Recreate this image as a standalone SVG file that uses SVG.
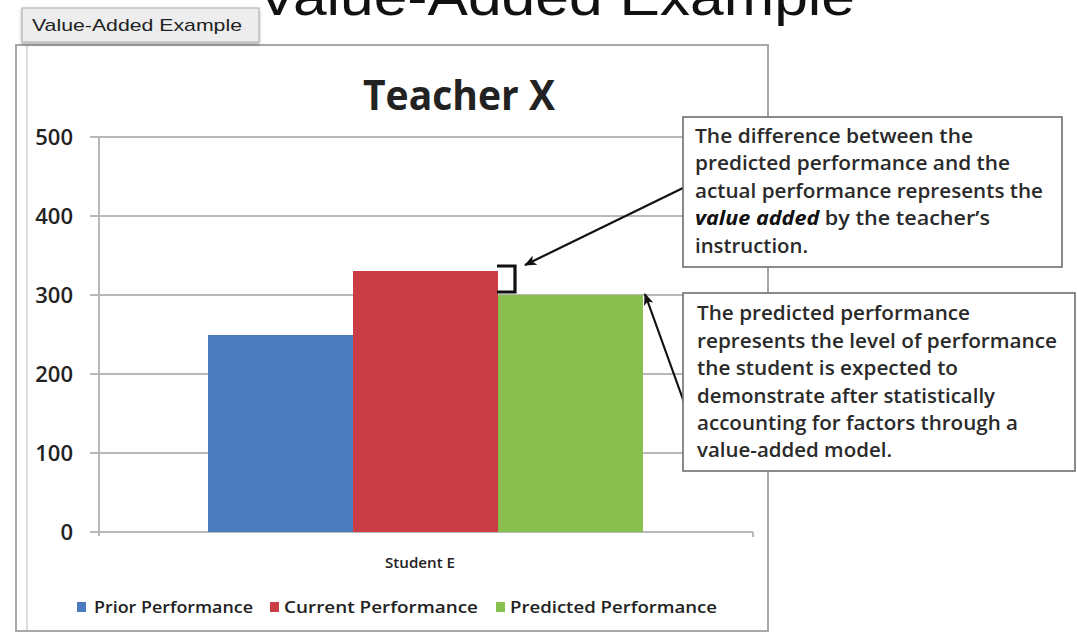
<svg xmlns="http://www.w3.org/2000/svg" width="1077" height="633" viewBox="0 0 1077 633">
<style>
.lbl{font-family:"Open Sans","Noto Sans",sans-serif;fill:#222;font-weight:600;}
.ax{font-family:"Open Sans","Noto Sans",sans-serif;font-size:22px;fill:#222;text-anchor:end;font-weight:600;}
.grid{stroke:#b8b8b8;stroke-width:2;fill:none;}
.note{font-family:"Open Sans","Noto Sans",sans-serif;font-size:19px;fill:#2a2a2a;font-weight:600;}
.box{fill:#fff;stroke:#6e6e6e;stroke-width:1.6;}
.conn{stroke:#111;stroke-width:2.2;fill:none;}
</style>
<defs>
<marker id="ah" viewBox="0 0 12 10" refX="11" refY="5" markerWidth="12" markerHeight="10" markerUnits="userSpaceOnUse" orient="auto">
<path d="M0,0 L12,5 L0,10 L3,5 Z" fill="#111"/>
</marker>
<filter id="sh" x="-10%" y="-10%" width="120%" height="140%">
<feDropShadow dx="0" dy="2" stdDeviation="1.5" flood-color="#000" flood-opacity="0.3"/>
</filter>
</defs>
<rect width="1077" height="633" fill="#fff"/>
<g id="page-title">
<text x="257" y="15" font-family="Liberation Sans, Arial, sans-serif" font-size="54" fill="#111" textLength="598" lengthAdjust="spacingAndGlyphs">Value-Added Example</text>
</g>
<g id="chart-frame">
<rect x="16" y="45" width="752" height="586" fill="#fff" stroke="#a8a8a8" stroke-width="2"/>
<line x1="27" y1="46" x2="27" y2="630" stroke="#dcdcdc" stroke-width="2"/>
</g>
<g id="tab">
<rect x="22" y="8" width="237" height="34" fill="#ededed" stroke="#b5b5b5" stroke-width="1.2" filter="url(#sh)"/>
<text x="32" y="31" font-family="Liberation Sans, Arial, sans-serif" font-size="17" fill="#222" textLength="210" lengthAdjust="spacingAndGlyphs">Value-Added Example</text>
</g>
<g id="chart-title">
<text class="lbl" x="363" y="110" font-size="41" font-weight="bold" fill="#111" style="font-weight:bold" textLength="192" lengthAdjust="spacingAndGlyphs">Teacher X</text>
</g>
<g id="axes">
<line class="grid" x1="90" y1="137" x2="753" y2="137"/>
<line class="grid" x1="90" y1="216" x2="753" y2="216"/>
<line class="grid" x1="90" y1="295" x2="753" y2="295"/>
<line class="grid" x1="90" y1="374" x2="753" y2="374"/>
<line class="grid" x1="90" y1="453" x2="753" y2="453"/>
<line class="grid" x1="90" y1="532" x2="753" y2="532"/>
<line class="grid" x1="99" y1="137" x2="99" y2="536"/>
<line class="grid" x1="753" y1="532" x2="753" y2="537"/>
<text class="ax" x="73" y="145">500</text>
<text class="ax" x="73" y="224">400</text>
<text class="ax" x="73" y="303">300</text>
<text class="ax" x="73" y="382">200</text>
<text class="ax" x="73" y="461">100</text>
<text class="ax" x="73" y="540">0</text>
<text class="lbl" x="385" y="568" font-size="15" textLength="70" lengthAdjust="spacingAndGlyphs">Student E</text>
</g>
<g id="bar-prior"><rect x="208" y="335" width="145" height="197" fill="#4a7bbd"/></g>
<g id="bar-current"><rect x="353" y="271" width="145" height="261" fill="#cb3d44"/></g>
<g id="bar-predicted"><rect x="498" y="295" width="145" height="237" fill="#89bf4f"/></g>
<g id="legend">
<rect x="77" y="602" width="9" height="10" fill="#4a7bbd"/>
<text class="lbl" x="94" y="613" font-size="16.5" textLength="159" lengthAdjust="spacingAndGlyphs">Prior Performance</text>
<rect x="270" y="602" width="9" height="10" fill="#cb3d44"/>
<text class="lbl" x="284" y="613" font-size="16.5" textLength="194" lengthAdjust="spacingAndGlyphs">Current Performance</text>
<rect x="496" y="602" width="9" height="10" fill="#89bf4f"/>
<text class="lbl" x="510" y="613" font-size="16.5" textLength="207" lengthAdjust="spacingAndGlyphs">Predicted Performance</text>
</g>
<g id="connectors">
<path d="M497,266 H515 V292 H497" stroke="#111" stroke-width="3.2" fill="none"/>
<line class="conn" x1="683" y1="188" x2="525" y2="265" marker-end="url(#ah)"/>
<line class="conn" x1="685" y1="405" x2="645" y2="294" marker-end="url(#ah)"/>
</g>
<g id="note-value-added">
<rect class="box" x="683" y="117" width="379" height="150"/>
<text class="note" x="695" y="143" textLength="278" lengthAdjust="spacingAndGlyphs">The difference between the</text>
<text class="note" x="695" y="170" textLength="315" lengthAdjust="spacingAndGlyphs">predicted performance and the</text>
<text class="note" x="695" y="197.5" textLength="348" lengthAdjust="spacingAndGlyphs">actual performance represents the</text>
<text class="note" x="695" y="225" textLength="295" lengthAdjust="spacingAndGlyphs"><tspan font-weight="bold" font-style="italic" fill="#111" style="font-weight:bold">value added</tspan> by the teacher’s</text>
<text class="note" x="695" y="252.5" textLength="113" lengthAdjust="spacingAndGlyphs">instruction.</text>
</g>
<g id="note-predicted">
<rect class="box" x="683" y="293" width="392" height="178"/>
<text class="note" x="697" y="320" textLength="273" lengthAdjust="spacingAndGlyphs">The predicted performance</text>
<text class="note" x="697" y="347.5" textLength="360" lengthAdjust="spacingAndGlyphs">represents the level of performance</text>
<text class="note" x="697" y="375" textLength="261" lengthAdjust="spacingAndGlyphs">the student is expected to</text>
<text class="note" x="697" y="402.5" textLength="298" lengthAdjust="spacingAndGlyphs">demonstrate after statistically</text>
<text class="note" x="697" y="430" textLength="321" lengthAdjust="spacingAndGlyphs">accounting for factors through a</text>
<text class="note" x="697" y="457" textLength="195" lengthAdjust="spacingAndGlyphs">value-added model.</text>
</g>
</svg>
